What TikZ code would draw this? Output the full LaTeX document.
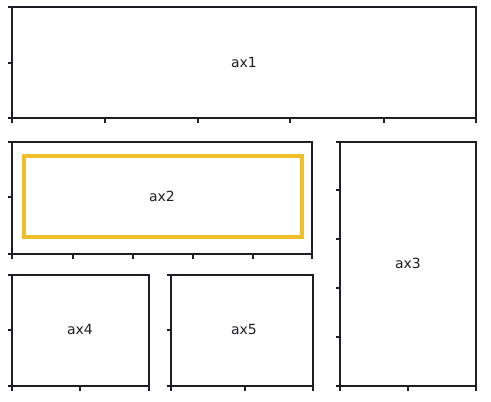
\documentclass[tikz,border=0pt]{standalone}
\usepackage{fontspec}
\setmainfont{DejaVu Sans}
\definecolor{axcol}{RGB}{30,30,40}
\definecolor{hl}{RGB}{240,190,40}
\begin{document}
\begin{tikzpicture}[x=1bp,y=-1bp,
  axframe/.style={draw=axcol,line width=1.8bp},
  tickline/.style={draw=axcol,line width=1.6bp},
  axlabel/.style={font=\fontsize{14}{16}\selectfont,text=axcol,inner sep=0pt},
  hlbox/.style={draw=hl,line width=4bp}]
\useasboundingbox[fill=white] (0,0) rectangle (491,401);
% ax1
\draw[axframe] (12,7) rectangle (476,118);
\foreach \y in {7,63,118} \draw[tickline] (8,\y) -- (12,\y);
\foreach \x in {12,105,198,290,384,476} \draw[tickline] (\x,118) -- (\x,123);
\node[axlabel] (l1) at (244,63) {ax1};
% ax2
\draw[axframe] (12,142) rectangle (312,254);
\foreach \y in {142,197,254} \draw[tickline] (8,\y) -- (12,\y);
\foreach \x in {12,73,133,193,253,312} \draw[tickline] (\x,254) -- (\x,259);
\draw[hlbox] (24,156) rectangle (302,237);
\node[axlabel] (l2) at (162,196) {ax2};
% ax3
\draw[axframe] (340,142) rectangle (476,386);
\foreach \y in {142,190,239,288,337,386} \draw[tickline] (336,\y) -- (340,\y);
\foreach \x in {340,408,476} \draw[tickline] (\x,386) -- (\x,391);
\node[axlabel] (l3) at (408,263) {ax3};
% ax4
\draw[axframe] (12,275) rectangle (149,386);
\foreach \y in {275,330,386} \draw[tickline] (8,\y) -- (12,\y);
\foreach \x in {12,80,149} \draw[tickline] (\x,386) -- (\x,391);
\node[axlabel] (l4) at (80,330) {ax4};
% ax5
\draw[axframe] (171,275) rectangle (313,386);
\foreach \y in {275,330,386} \draw[tickline] (167,\y) -- (171,\y);
\foreach \x in {171,245,313} \draw[tickline] (\x,386) -- (\x,391);
\node[axlabel] (l5) at (244,330) {ax5};
\end{tikzpicture}
\end{document}
